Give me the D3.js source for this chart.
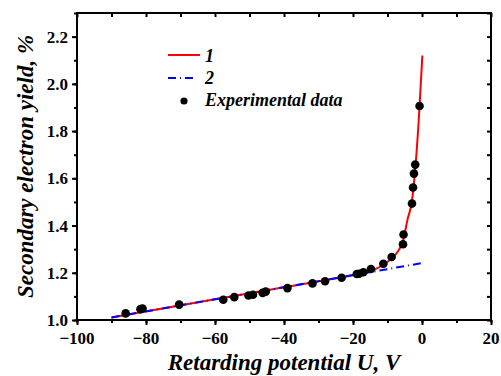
<!DOCTYPE html>
<html>
<head>
<meta charset="utf-8">
<script src="https://cdn.jsdelivr.net/npm/d3@7"></script>
</head>
<body style="margin:0">
<script>
// Measured secondary electron yield vs retarding potential
const expU     = [-85.9, -81.6, -81.0, -70.4, -57.6, -54.4, -50.3, -49.0, -46.2, -45.3, -39.0, -31.75, -28.1, -23.3, -18.9, -18.2, -17.0, -14.8, -11.2, -8.8, -5.5, -5.35, -2.9, -2.6, -2.33, -1.96, -0.71];
const expYield = [1.028, 1.046, 1.049, 1.065, 1.086, 1.097, 1.104, 1.107, 1.115, 1.120, 1.135, 1.155, 1.164, 1.179, 1.195, 1.196, 1.202, 1.216, 1.238, 1.267, 1.321, 1.362, 1.493, 1.561, 1.620, 1.658, 1.906];

// Curve 1 (full model)
const curve1U     = [-90, -60, -40, -25, -18, -14, -11, -8.7, -7, -5.5, -4.2, -2.9, -1.75, -0.7, 0.1];
const curve1Yield = [1.011, 1.088, 1.139, 1.177, 1.197, 1.212, 1.236, 1.262, 1.290, 1.335, 1.425, 1.505, 1.677, 1.906, 2.12];

// Curve 2 (linear part)
const curve2U     = [-90, 0];
const curve2Yield = [1.011, 1.241];

const xTicks = [-100, -80, -60, -40, -20, 0, 20];
const yTicks = [1.0, 1.2, 1.4, 1.6, 1.8, 2.0, 2.2];
const legendLabels = ["1", "2", "Experimental data"];

const W = 501, H = 376;
const m = { left: 77, right: 10, top: 13, bottom: 56 };

const svg = d3.select("body").append("svg").attr("width", W).attr("height", H);

const x = d3.scaleLinear().domain([-100, 20]).range([m.left, W - m.right]);
const y = d3.scaleLinear().domain([1.0, 2.3]).range([H - m.bottom, m.top]);

const x0 = x.range()[0], x1 = x.range()[1];
const y0 = y.range()[0], y1 = y.range()[1];

const xMinor = d3.range(-100, 20.01, 10);
const yMinor = d3.range(1.0, 2.301, 0.1);

// Tick marks only (labels drawn separately below)
function ticksOnly(g) {
  g.selectAll(".tick line").attr("stroke-width", 2);
  g.selectAll(".tick text").remove();
  g.select(".domain").remove();
}

svg.append("g").attr("transform", `translate(0,${y0})`)
  .call(d3.axisBottom(x).tickValues(xMinor).tickSize(3)).call(ticksOnly);
svg.append("g").attr("transform", `translate(0,${y0})`)
  .call(d3.axisBottom(x).tickValues(xTicks).tickSize(5)).call(ticksOnly);
svg.append("g").attr("transform", `translate(${x0},0)`)
  .call(d3.axisLeft(y).tickValues(yMinor).tickSize(3)).call(ticksOnly);
svg.append("g").attr("transform", `translate(${x0},0)`)
  .call(d3.axisLeft(y).tickValues(yTicks).tickSize(5)).call(ticksOnly);
svg.append("g").attr("transform", `translate(0,${y1})`)
  .call(d3.axisTop(x).tickValues(xMinor).tickSize(-4)).call(ticksOnly);
svg.append("g").attr("transform", `translate(${x1},0)`)
  .call(d3.axisRight(y).tickValues(yMinor).tickSize(-4)).call(ticksOnly);

// Tick labels
const labels = svg.append("g");
labels.selectAll("text.xl").data(xTicks).join("text")
  .attr("class", "xl")
  .attr("x", d => x(d)).attr("y", y0 + 24)
  .attr("text-anchor", "middle")
  .attr("font-family", "Times New Roman").attr("font-weight", "bold").attr("font-size", 17)
  .text(d => d3.format("d")(d));
labels.selectAll("text.yl").data(yTicks).join("text")
  .attr("class", "yl")
  .attr("x", x0 - 9).attr("y", d => y(d) + 6)
  .attr("text-anchor", "end")
  .attr("font-family", "Times New Roman").attr("font-weight", "bold").attr("font-size", 17)
  .text(d => d3.format(".1f")(d));

// Frame
svg.append("rect")
  .attr("x", x0).attr("y", y1)
  .attr("width", x1 - x0).attr("height", y0 - y1)
  .attr("fill", "none").attr("stroke", "#000").attr("stroke-width", 2);

// Curves
const line = d3.line().x(d => x(d[0])).y(d => y(d[1]));

svg.append("path")
  .datum(d3.zip(curve1U, curve1Yield))
  .attr("d", line.curve(d3.curveMonotoneX))
  .attr("fill", "none").attr("stroke", "#ff0000").attr("stroke-width", 2);

svg.append("path")
  .datum(d3.zip(curve2U, curve2Yield))
  .attr("d", line.curve(d3.curveLinear))
  .attr("fill", "none").attr("stroke", "#0000ff").attr("stroke-width", 2)
  .attr("stroke-dasharray", "8,4,1,4");

// Experimental points
svg.append("g").selectAll("circle")
  .data(d3.zip(expU, expYield))
  .join("circle")
  .attr("cx", d => x(d[0])).attr("cy", d => y(d[1]))
  .attr("r", 4.3).attr("fill", "#000");

// Legend
const lg = svg.append("g");
lg.append("line").attr("x1", 168).attr("x2", 200).attr("y1", 55).attr("y2", 55)
  .attr("stroke", "#ff0000").attr("stroke-width", 2);
lg.append("line").attr("x1", 168).attr("x2", 196).attr("y1", 78).attr("y2", 78)
  .attr("stroke", "#0000ff").attr("stroke-width", 2).attr("stroke-dasharray", "8,4,1,4");
lg.append("circle").attr("cx", 184).attr("cy", 101).attr("r", 3.6).attr("fill", "#000");
const lgY = [62, 84, 106];
lg.selectAll("text").data(legendLabels).join("text")
  .attr("x", 205).attr("y", (d, i) => lgY[i])
  .attr("font-family", "Times New Roman").attr("font-size", 18)
  .attr("font-style", "italic").attr("font-weight", "bold")
  .text(d => d);

// Axis titles
svg.append("text")
  .attr("x", (x0 + x1) / 2).attr("y", 370)
  .attr("text-anchor", "middle")
  .attr("font-family", "Times New Roman").attr("font-size", 23)
  .attr("font-style", "italic").attr("font-weight", "bold")
  .text("Retarding potential U, V");

svg.append("text")
  .attr("transform", `translate(33,${(y0 + y1) / 2}) rotate(-90)`)
  .attr("text-anchor", "middle")
  .attr("font-family", "Times New Roman").attr("font-size", 23)
  .attr("font-style", "italic").attr("font-weight", "bold")
  .text("Secondary electron yield, %");
</script>
</body>
</html>
